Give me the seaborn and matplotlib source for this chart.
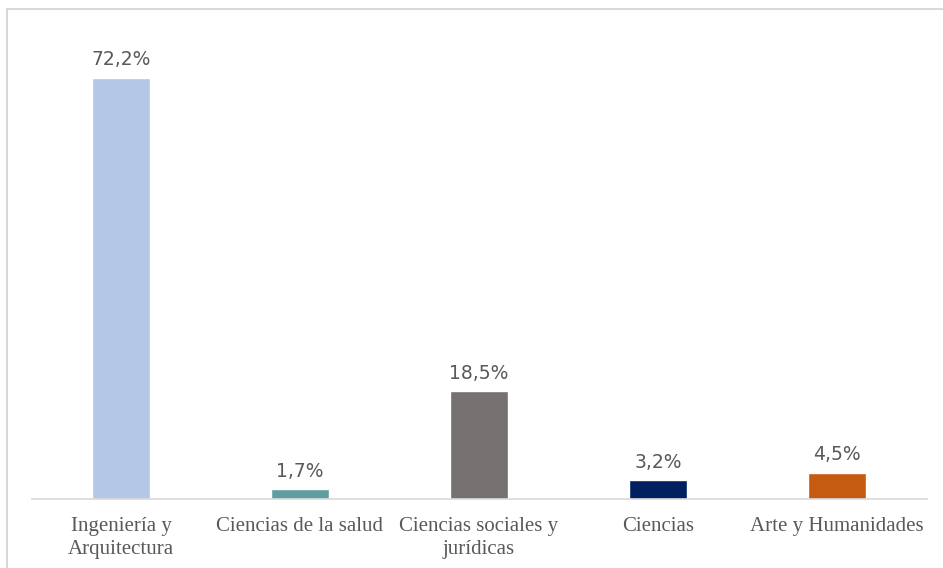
import pandas as pd
import matplotlib.pyplot as plt
import seaborn as sns
from matplotlib.patches import Rectangle

areas = ["Ingeniería y\nArquitectura", "Ciencias de la salud",
         "Ciencias sociales y\njurídicas", "Ciencias", "Arte y Humanidades"]
porcentajes = [72.2, 1.7, 18.5, 3.2, 4.5]
etiquetas = ["72,2%", "1,7%", "18,5%", "3,2%", "4,5%"]
colores = ["#B4C7E7", "#5F9EA0", "#767171", "#002060", "#C55A11"]

df = pd.DataFrame({"area": areas, "pct": porcentajes})

sns.set_style("white")
fig = plt.figure(figsize=(9.43, 5.68), dpi=100)
ax = fig.add_axes([31.5 / 943, 69 / 568, 895 / 943, 467 / 568])

sns.barplot(data=df, x="area", y="pct", hue="area", palette=colores,
            width=0.32, legend=False, ax=ax, saturation=1)

for cont, lab in zip(ax.containers, etiquetas):
    ax.bar_label(cont, labels=[lab], padding=6, fontsize=13.5,
                 color="#595959", family="DejaVu Sans")

ax.set_ylim(0, 80)
ax.set_xlim(-0.5, 4.5)
ax.set_xlabel("")
ax.set_ylabel("")
ax.set_yticks([])
for s in ["top", "right", "left"]:
    ax.spines[s].set_visible(False)
ax.spines["bottom"].set_color("#D9D9D9")
ax.spines["bottom"].set_linewidth(1.2)
ax.tick_params(axis="x", length=0, pad=13)
for t in ax.get_xticklabels():
    t.set_family("Liberation Serif")
    t.set_fontsize(15)
    t.set_color("#595959")
    t.set_linespacing(1.3)

# marco del gráfico
fig.patches.append(Rectangle((7 / 943, -0.1), 1.2, (568 - 8.5) / 568 + 0.1,
                             transform=fig.transFigure, fill=False,
                             edgecolor="#D9D9D9", linewidth=1.5))

fig.savefig("out.png", dpi=100)
